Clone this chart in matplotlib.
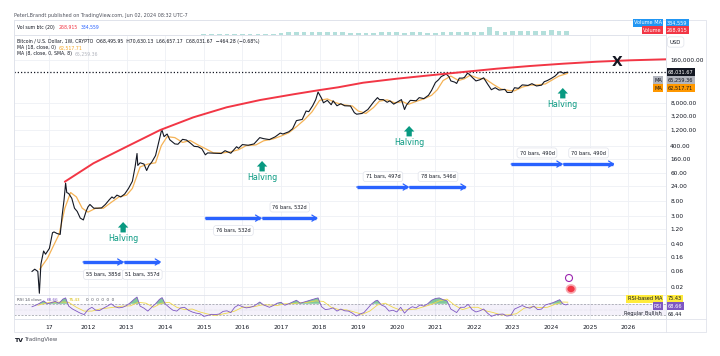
import numpy as np
import matplotlib
matplotlib.use("Agg")
import matplotlib.pyplot as plt
from matplotlib.patches import Rectangle, Ellipse

plt.rcParams["font.family"] = ["DejaVu Sans"]

# ---- data (time in decimal years) ----
price_t = [2010.55, 2010.62, 2010.70, 2010.74, 2010.78, 2010.85, 2010.90, 2011.00, 2011.08, 2011.12,
           2011.20, 2011.28, 2011.33, 2011.38, 2011.42, 2011.45, 2011.50, 2011.58, 2011.65, 2011.72,
           2011.80, 2011.88, 2011.95, 2012.00, 2012.05, 2012.15, 2012.25, 2012.35, 2012.45, 2012.55,
           2012.62, 2012.67, 2012.75, 2012.85, 2012.95, 2013.05, 2013.15, 2013.22, 2013.27, 2013.29,
           2013.35, 2013.45, 2013.52, 2013.58, 2013.65, 2013.75, 2013.83, 2013.90, 2013.92, 2013.97,
           2014.05, 2014.12, 2014.25, 2014.33, 2014.45, 2014.55, 2014.65, 2014.75, 2014.85, 2014.95,
           2015.04, 2015.10, 2015.25, 2015.45, 2015.55, 2015.70, 2015.85, 2015.90, 2016.00, 2016.15,
           2016.30, 2016.45, 2016.55, 2016.70, 2016.85, 2016.98, 2017.05, 2017.20, 2017.30, 2017.40,
           2017.55, 2017.65, 2017.72, 2017.82, 2017.90, 2017.96, 2018.05, 2018.10, 2018.20, 2018.30,
           2018.35, 2018.45, 2018.55, 2018.65, 2018.80, 2018.90, 2018.96, 2019.10, 2019.25, 2019.40,
           2019.50, 2019.55, 2019.65, 2019.75, 2019.82, 2019.92, 2020.05, 2020.12, 2020.20, 2020.25,
           2020.35, 2020.50, 2020.58, 2020.70, 2020.82, 2020.90, 2021.00, 2021.08, 2021.15, 2021.28,
           2021.35, 2021.40, 2021.50, 2021.55, 2021.62, 2021.70, 2021.75, 2021.83, 2021.87, 2021.95,
           2022.05, 2022.15, 2022.25, 2022.35, 2022.45, 2022.55, 2022.65, 2022.80, 2022.86, 2022.98,
           2023.05, 2023.15, 2023.25, 2023.40, 2023.50, 2023.62, 2023.75, 2023.82, 2023.90, 2024.00,
           2024.10, 2024.20, 2024.25, 2024.32, 2024.38, 2024.42]
price_v = [0.06, 0.07, 0.06, 0.013, 0.10, 0.25, 0.20, 0.30, 0.90, 0.95,
           0.85, 0.80, 3.0, 9, 29, 15, 14, 10, 5, 4,
           2.5, 2.2, 4, 5.5, 6.5, 5, 5, 5.1, 6.5, 9,
           11, 10, 12.5, 11, 13.5, 20, 33, 90, 230, 100,
           120, 110, 70, 100, 125, 200, 500, 1100, 1150, 750,
           900, 600, 450, 440, 620, 590, 480, 380, 370, 320,
           210, 240, 235, 230, 280, 235, 370, 330, 430, 410,
           450, 700, 650, 610, 740, 960, 900, 1050, 1300, 2300,
           2500, 4500, 4300, 6500, 10000, 17000, 11000, 8000, 9500, 7000,
           9200, 6500, 7500, 6500, 6400, 4000, 3600, 3800, 5000, 8500,
           11500, 10000, 10000, 8300, 9200, 7300, 9000, 10000, 5000, 6800,
           9500, 9200, 11500, 10700, 13500, 19000, 33000, 40000, 50000, 60000,
           50000, 37000, 34000, 31000, 45000, 45000, 47000, 63000, 60000, 48000,
           37000, 40000, 46000, 30000, 20000, 23000, 19500, 20500, 16500, 16600,
           23000, 22000, 28000, 27000, 30500, 26000, 27500, 35000, 38000, 44000,
           52000, 68000, 70000, 63000, 67000, 68031.67]

ma_t = [2010.75, 2010.95, 2011.10, 2011.25, 2011.40, 2011.55, 2011.70, 2011.85, 2012.00, 2012.20,
        2012.40, 2012.60, 2012.80, 2013.00, 2013.15, 2013.35, 2013.55, 2013.75, 2013.90, 2014.05,
        2014.25, 2014.45, 2014.65, 2014.85, 2015.05, 2015.25, 2015.50, 2015.70, 2015.90, 2016.10,
        2016.35, 2016.55, 2016.80, 2017.00, 2017.20, 2017.40, 2017.60, 2017.80, 2018.00, 2018.20,
        2018.40, 2018.60, 2018.85, 2019.00, 2019.20, 2019.40, 2019.55, 2019.75, 2019.95, 2020.15,
        2020.30, 2020.50, 2020.70, 2020.90, 2021.05, 2021.20, 2021.40, 2021.60, 2021.75, 2021.90,
        2022.10, 2022.30, 2022.50, 2022.70, 2022.90, 2023.05, 2023.25, 2023.45, 2023.65, 2023.85,
        2024.00, 2024.20, 2024.42]
ma_v = [0.07, 0.15, 0.35, 0.8, 5, 15, 11, 5, 3.8, 5,
        5, 7.5, 11, 12.5, 20, 90, 110, 120, 400, 750,
        700, 500, 570, 420, 320, 240, 240, 260, 300, 400,
        420, 560, 640, 780, 980, 1500, 2400, 4200, 9500, 10500,
        8200, 7000, 6400, 4500, 3800, 5800, 9000, 9800, 8000, 8700,
        7200, 8800, 10500, 13500, 20000, 38000, 52000, 38000, 43000, 55000,
        45000, 42000, 29000, 21000, 19000, 18500, 24000, 27500, 28000, 30000,
        38000, 52000, 62517.71]

# red resistance curve drawn by the author
curve_t = [2011.40, 2012.14, 2013.00, 2013.87, 2014.73, 2015.59, 2016.46, 2017.32, 2018.01, 2018.48,
           2019.13, 2020.00, 2020.86, 2021.72, 2022.59, 2023.45, 2024.31, 2025.18, 2026.04, 2026.97]
curve_v = [32, 116, 371, 1191, 2897, 5834, 9727, 14490, 19590, 23660,
           32660, 43220, 54810, 69070, 87050, 105100, 123500, 141900, 156600, 168000]

halving_t = [2012.91, 2016.51, 2020.32, 2024.30]

# measuring tool segments: start, days, level, label
meas_start = [2011.87, 2012.92, 2015.04, 2016.50, 2018.96, 2020.32, 2022.96, 2024.30]
meas_days = [385, 357, 532, 532, 497, 546, 490, 490]
meas_bars = [55, 51, 76, 76, 71, 78, 70, 70]
meas_level = [0.116, 0.116, 2.5, 2.5, 22, 22, 110, 110]

vol_t = [2015.0, 2015.2, 2015.4, 2015.6, 2015.8, 2016.0, 2016.2, 2016.4, 2016.6, 2016.8,
         2017.0, 2017.2, 2017.4, 2017.6, 2017.8, 2018.0, 2018.2, 2018.4, 2018.6, 2018.8,
         2019.0, 2019.2, 2019.4, 2019.6, 2019.8, 2020.0, 2020.2, 2020.4, 2020.6, 2020.8,
         2021.0, 2021.2, 2021.4, 2021.6, 2021.8, 2022.0, 2022.2, 2022.4, 2022.6, 2022.8,
         2023.0, 2023.2, 2023.4, 2023.6, 2023.8, 2024.0, 2024.2, 2024.4]
vol_v = [.04, .04, .05, .05, .05, .06, .06, .06, .07, .08,
         .14, .18, .18, .20, .22, .22, .20, .20, .18, .16,
         .15, .14, .14, .18, .22, .18, .16, .20, .17, .14,
         .16, .20, .21, .22, .21, .20, .19, .55, .24, .22,
         .27, .29, .28, .27, .28, .30, .29, .27]

rsi_t = [2010.55, 2010.65, 2010.75, 2010.85, 2010.95, 2011.05, 2011.15, 2011.25, 2011.35, 2011.42,
         2011.5, 2011.6, 2011.7, 2011.8, 2011.9, 2012.0, 2012.1, 2012.2, 2012.3, 2012.4,
         2012.5, 2012.6, 2012.7, 2012.8, 2012.9, 2013.0, 2013.1, 2013.2, 2013.27, 2013.35,
         2013.45, 2013.55, 2013.65, 2013.75, 2013.85, 2013.92, 2014.0, 2014.1, 2014.2, 2014.3,
         2014.4, 2014.5, 2014.6, 2014.7, 2014.8, 2014.9, 2015.0, 2015.1, 2015.2, 2015.3,
         2015.4, 2015.5, 2015.6, 2015.7, 2015.8, 2015.9, 2016.0, 2016.1, 2016.2, 2016.3,
         2016.45, 2016.55, 2016.7, 2016.8, 2016.9, 2017.0, 2017.1, 2017.2, 2017.3, 2017.4,
         2017.5, 2017.6, 2017.7, 2017.8, 2017.9, 2017.96, 2018.05, 2018.15, 2018.25, 2018.35,
         2018.45, 2018.55, 2018.65, 2018.75, 2018.85, 2018.95, 2019.05, 2019.15, 2019.25, 2019.35,
         2019.45, 2019.5, 2019.6, 2019.7, 2019.8, 2019.9, 2020.0, 2020.1, 2020.2, 2020.3,
         2020.4, 2020.5, 2020.6, 2020.7, 2020.8, 2020.9, 2021.0, 2021.1, 2021.2, 2021.3,
         2021.4, 2021.5, 2021.55, 2021.65, 2021.75, 2021.85, 2021.95, 2022.05, 2022.15, 2022.25,
         2022.35, 2022.45, 2022.55, 2022.65, 2022.75, 2022.85, 2022.95, 2023.05, 2023.15, 2023.25,
         2023.35, 2023.45, 2023.55, 2023.65, 2023.75, 2023.85, 2023.95, 2024.05, 2024.15, 2024.22,
         2024.3, 2024.38, 2024.43]
rsi_v = [60, 65, 72, 80, 70, 74, 78, 72, 86, 90,
         62, 52, 45, 38, 33, 50, 58, 48, 47, 55,
         62, 70, 60, 56, 58, 64, 74, 86, 93, 62,
         55, 45, 58, 70, 85, 91, 70, 58, 48, 45,
         56, 58, 48, 42, 38, 36, 27, 30, 34, 33,
         35, 44, 46, 40, 58, 66, 60, 56, 58, 62,
         76, 66, 58, 64, 72, 75, 65, 70, 76, 82,
         72, 76, 80, 84, 88, 90, 60, 50, 52, 56,
         45, 52, 46, 45, 38, 28, 35, 40, 55, 70,
         80, 82, 66, 60, 45, 48, 42, 58, 38, 52,
         60, 56, 66, 62, 70, 82, 88, 90, 84, 80,
         52, 44, 40, 58, 58, 68, 50, 42, 46, 52,
         38, 27, 32, 34, 35, 28, 30, 52, 58, 64,
         58, 55, 62, 50, 52, 66, 70, 74, 80, 84,
         70, 66, 69]

rsi_ma_t = [2010.7, 2011.0, 2011.3, 2011.5, 2011.7, 2011.9, 2012.1, 2012.3, 2012.6, 2012.9,
            2013.1, 2013.3, 2013.5, 2013.7, 2013.9, 2014.1, 2014.3, 2014.5, 2014.7, 2014.9,
            2015.1, 2015.3, 2015.6, 2015.8, 2016.0, 2016.3, 2016.5, 2016.7, 2016.9, 2017.1,
            2017.3, 2017.5, 2017.7, 2017.9, 2018.1, 2018.3, 2018.5, 2018.7, 2018.9, 2019.1,
            2019.3, 2019.5, 2019.7, 2019.9, 2020.1, 2020.3, 2020.5, 2020.7, 2020.9, 2021.1,
            2021.3, 2021.5, 2021.7, 2021.9, 2022.1, 2022.3, 2022.5, 2022.7, 2022.9, 2023.1,
            2023.3, 2023.5, 2023.7, 2023.9, 2024.1, 2024.3, 2024.43]
rsi_ma_v = [65, 75, 76, 75, 58, 45, 45, 52, 57, 62,
            63, 75, 72, 58, 72, 75, 58, 50, 52, 42,
            35, 30, 38, 45, 58, 60, 66, 66, 64, 70,
            70, 74, 75, 80, 78, 58, 50, 49, 42, 34,
            45, 66, 72, 58, 48, 50, 52, 60, 68, 80,
            86, 65, 50, 58, 58, 46, 40, 32, 32, 36,
            55, 60, 57, 58, 68, 76, 75.43]

price_ticks = [160000, 8000, 3200, 1200, 400, 160, 60, 24, 8, 3, 1.2, 0.4, 0.16, 0.06, 0.02]
year_ticks = list(range(2011, 2027))
year_labels = ["17"] + [str(y) for y in range(2012, 2027)]

# ---- layout helpers (pixel coordinates of the 720x356 canvas) ----
W, H = 720, 356
fig = plt.figure(figsize=(7.2, 3.56), dpi=100)
fig.patch.set_facecolor("white")


def px_axes(l, t, r, b):
    return fig.add_axes([l / W, 1 - b / H, (r - l) / W, (b - t) / H])


def txt(x, y, s, **kw):
    kw.setdefault("va", "center")
    kw.setdefault("fontsize", 3.3)
    kw.setdefault("color", "#131722")
    return fig.text(x / W, 1 - y / H, s, **kw)


def tag(x, y, s, fc, tc="white", ha="left"):
    txt(x, y, s, color=tc, ha=ha, fontsize=3.6,
        bbox=dict(boxstyle="square,pad=0.25", fc=fc, ec="none"))


GRID = "#eef0f5"
GREEN = "#089981"
BLUE = "#2962ff"
XMIN, XMAX = 2010.083, 2026.974

ax = px_axes(14, 35, 666, 295)
axv = px_axes(14, 20, 666, 35)
axr = px_axes(14, 295, 666, 319)

for a in (ax, axv, axr):
    a.set_xlim(XMIN, XMAX)
    a.set_xticks(year_ticks)
    a.grid(True, color=GRID, lw=0.6)
    a.set_axisbelow(True)
    for s in a.spines.values():
        s.set_color("#e0e3eb")
        s.set_linewidth(0.6)
    a.tick_params(length=0)

# main price pane
ax.set_yscale("log")
ax.set_ylim(10 ** -1.939, 10 ** 5.964)
ax.yaxis.tick_right()
ax.set_yticks(price_ticks)
ax.set_yticklabels([f"{v:,.2f}" for v in price_ticks])
ax.yaxis.set_minor_locator(matplotlib.ticker.NullLocator())
ax.tick_params(axis="y", labelsize=4.2, pad=3, labelcolor="#131722")
ax.set_xticklabels([])

ax.axhline(68031.67, color="#131722", lw=0.9, ls=(0, (1, 1.6)))
ax.plot(ma_t, ma_v, color="#f5b356", lw=0.9)
ax.plot(price_t, price_v, color="#131722", lw=0.8)
ax.plot(curve_t, curve_v, color="#f23645", lw=1.4, solid_capstyle="round", solid_joinstyle="round")

ax.text(2025.70, 139000, "X", fontsize=10, fontweight="bold", color="#131722",
        ha="center", va="center")

halving_tip = [1.9, 136, 1578, 22540]
for t, p in zip(halving_t, halving_tip):
    ax.annotate("", xy=(t, p), xytext=(0, -7.5), textcoords="offset points",
                arrowprops=dict(arrowstyle="simple,head_width=0.75,head_length=0.4,tail_width=0.38",
                                color=GREEN, lw=0, shrinkA=0, shrinkB=0))
    ax.annotate("Halving", xy=(t, p), xytext=(0, -12), textcoords="offset points",
                ha="center", va="center", fontsize=5.8, color=GREEN)

label_off = [-9, -9, -9, 8, 7.5, 7.5, 8, 8]
for s, d, b, lv, off in zip(meas_start, meas_days, meas_bars, meas_level, label_off):
    e = s + d / 365.25
    ax.plot([s, e - 0.05], [lv, lv], color=BLUE, lw=2.4, solid_capstyle="butt")
    ax.annotate("", xy=(e, lv), xytext=(s, lv),
                arrowprops=dict(arrowstyle="->,head_length=0.35,head_width=0.22", color=BLUE,
                                lw=0.9, shrinkA=0, shrinkB=0))
    ax.annotate(f"{b} bars, {d}d", xy=((s + e) / 2, lv), xytext=(0, off), textcoords="offset points",
                ha="center", va="center", fontsize=3.6, color="#131722",
                bbox=dict(boxstyle="round,pad=0.5", fc="white", ec="#e0e3eb", lw=0.5))

# volume pane
axv.set_ylim(0, 1)
axv.bar(vol_t, vol_v, width=0.12, color="#26a69a", alpha=0.35)
axv.set_yticks([])
axv.set_xticklabels([])
axv.grid(False)

# RSI pane
axr.set_ylim(18, 100)
axr.set_yticks([])
axr.axhspan(30, 70, color="#7e57c2", alpha=0.08, lw=0)
for lvl in (30, 70):
    axr.axhline(lvl, color="#9598a1", lw=0.5, ls=(0, (3, 2)))
axr.axhline(50, color="#9598a1", lw=0.3, ls=(0, (1, 2)), alpha=0.6)
rv = np.array(rsi_v, dtype=float)
axr.fill_between(rsi_t, 70, rv, where=rv > 70, interpolate=True, color="#1b9e4b", alpha=0.55, lw=0)
axr.plot(rsi_ma_t, rsi_ma_v, color="#f0d84a", lw=0.6)
axr.plot(rsi_t, rsi_v, color="#7e57c2", lw=0.6)
axr.set_xticklabels(year_labels)
axr.tick_params(axis="x", labelsize=4.3, pad=4, labelcolor="#131722")

# frame around the whole chart area and price scale
fig.add_artist(Rectangle((14 / W, 1 - 332 / H), 692 / W, 312 / H, transform=fig.transFigure,
                         fill=False, ec="#e0e3eb", lw=0.6))
fig.add_artist(plt.Line2D([14 / W, 706 / W], [1 - 319 / H, 1 - 319 / H], color="#e0e3eb", lw=0.6))
fig.add_artist(plt.Line2D([666 / W, 666 / W], [1 - 20 / H, 1 - 332 / H], color="#e0e3eb", lw=0.6))

# header / legend texts
txt(14, 15, "PeterLBrandt published on TradingView.com, Jun 02, 2024 08:32 UTC-7", color="#50535e", fontsize=3.5)
txt(17, 27.5, "Vol sum btc (20)")
txt(59, 27.5, "268,915", color="#f23645")
txt(81, 27.5, "334,559", color="#2962ff")
txt(17, 42, "Bitcoin / U.S. Dollar, 1W, CRYPTO  O68,495.95  H70,630.13  L66,657.17  C68,031.67  \u2212464.28 (\u22120.68%)")
txt(17, 48, "MA (18, close, 0)")
txt(59, 48, "62,517.71", color="#f5a623")
txt(17, 54, "MA (8, close, 0, SMA, 8)")
txt(75, 54, "65,259.36", color="#b2b5be")
txt(17, 300, "RSI 14 close", fontsize=3.0, color="#50535e")
txt(47, 300, "68.66", fontsize=3.0, color="#7e57c2")
txt(69, 300, "75.43", fontsize=3.0, color="#d4b800")
txt(86, 300, "0  0  0  0  0  0", fontsize=3.0, color="#50535e")

# right-hand value tags
txt(670, 42, "USD", fontsize=3.8, bbox=dict(boxstyle="round,pad=0.5", fc="white", ec="#e0e3eb", lw=0.5))
tag(662, 23, "Volume MA", "#2196f3", ha="right")
tag(667, 23, "334,559", "#2196f3")
tag(662, 30, "Volume", "#f23645", ha="right")
tag(667, 30, "268,915", "#f23645")
tag(668, 72, "68,031.67", "#131722")
tag(662, 80, "MA", "#b2b5be", tc="#131722", ha="right")
tag(668, 80, "65,259.36", "#b2b5be", tc="#131722")
tag(662, 88, "MA", "#ff9800", tc="#131722", ha="right")
tag(668, 88, "62,517.71", "#ff9800", tc="#131722")
tag(662, 299, "RSI-based MA", "#ffeb3b", tc="#131722", ha="right")
tag(668, 299, "75.43", "#ffeb3b", tc="#131722")
tag(662, 306, "RSI", "#7e57c2", ha="right")
tag(668, 306, "68.66", "#7e57c2")
txt(662, 314, "Regular Bullish", fontsize=3.6, ha="right")
txt(668, 314, "66.44", fontsize=3.6)

# event markers
fig.add_artist(Ellipse((569 / W, 1 - 278 / H), 7 / W, 7 / H, transform=fig.transFigure,
                       fill=False, ec="#9c27b0", lw=0.8))
fig.add_artist(Ellipse((571 / W, 1 - 289 / H), 9 / W, 8 / H, transform=fig.transFigure,
                       fc="#f23645", ec="#f7a6ad", lw=1.2))

# TradingView footer
txt(14, 340, "TV", fontsize=4.5, fontweight="bold")
txt(24, 340, "TradingView", fontsize=4.0, color="#50535e")

fig.savefig("out.png", dpi=100, facecolor="white")
